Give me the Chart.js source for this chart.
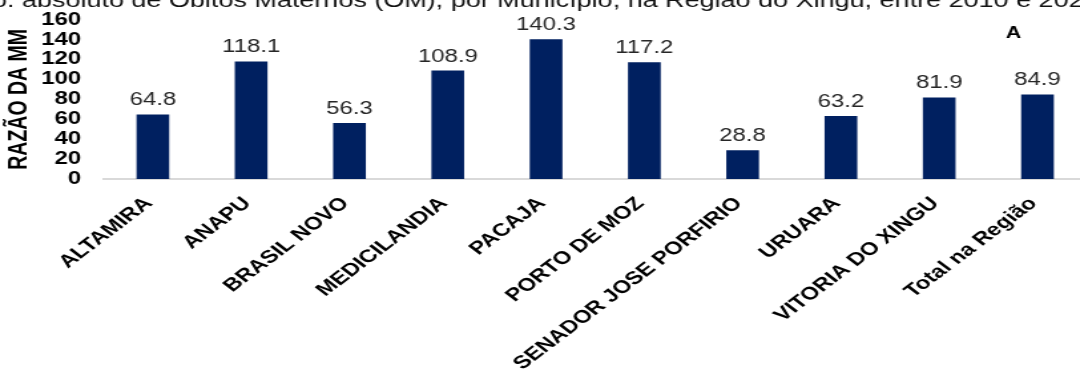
<!DOCTYPE html>
<html>
<head>
<meta charset="utf-8">
<script src="https://cdn.jsdelivr.net/npm/chart.js@4/dist/chart.umd.min.js"></script>
<style>
  html, body { margin: 0; padding: 0; background: #fff; overflow: hidden; }
  /* the source picture was stretched sideways, so the chart is too */
  #wrap { position: relative; width: 818px; height: 372px; transform: scaleX(1.33); transform-origin: 0 0; }
</style>
</head>
<body>
<div id="wrap"><canvas id="mmChart"></canvas></div>
<script>
// Razão de mortalidade materna por município
const categories = ['ALTAMIRA', 'ANAPU', 'BRASIL NOVO', 'MEDICILANDIA', 'PACAJA',
    'PORTO DE MOZ', 'SENADOR JOSE PORFIRIO', 'URUARA', 'VITORIA DO XINGU', 'Total na Região'];
const razaoMM = [64.8, 118.1, 56.3, 108.9, 140.3, 117.2, 28.8, 63.2, 81.9, 84.9];
const yTicks = [0, 20, 40, 60, 80, 100, 120, 140, 160];

const titleText = 'Nro. absoluto de Óbitos Maternos (ÓM), por Município, na Região do Xingu, entre 2010 e 2020';
const FONT = '"Liberation Sans", Arial, sans-serif';

// title (cut at the top), panel letter and value labels
const extras = {
    id: 'extras',
    afterDatasetsDraw(chart) {
        const ctx = chart.ctx;
        ctx.save();
        ctx.fillStyle = '#262626';
        ctx.font = '18px ' + FONT;
        ctx.textAlign = 'center';
        ctx.textBaseline = 'alphabetic';
        chart.getDatasetMeta(0).data.forEach((bar, i) => {
            ctx.fillText(razaoMM[i].toFixed(1), bar.x, bar.y - 9);
        });

        ctx.fillStyle = '#000';
        ctx.font = 'bold 16px ' + FONT;
        ctx.fillText('A', 762, 38);

        ctx.fillStyle = '#111';
        ctx.font = '20.3px ' + FONT;
        ctx.textAlign = 'left';
        const pre = ctx.measureText('Nro. ').width;
        ctx.fillText(titleText, 16.5 - pre, 7);
        ctx.restore();
    }
};

new Chart(document.getElementById('mmChart'), {
    type: 'bar',
    data: {
        labels: categories,
        datasets: [{
            data: razaoMM,
            backgroundColor: '#002060',
            barPercentage: 0.333,
            categoryPercentage: 1
        }]
    },
    options: {
        responsive: true,
        maintainAspectRatio: false,
        animation: false,
        layout: { padding: { top: 0, right: 1, left: 0, bottom: 0 } },
        plugins: { legend: { display: false }, tooltip: { enabled: false } },
        scales: {
            x: {
                grid: { display: false, drawTicks: false },
                border: { color: '#d9d9d9', width: 2 },
                ticks: {
                    color: '#000',
                    font: { family: FONT, size: 18, weight: 'bold' },
                    minRotation: 45,
                    maxRotation: 45,
                    autoSkip: false,
                    labelOffset: -3,
                    padding: 14
                },
                afterFit(scale) { scale.height = 193; }
            },
            y: {
                min: 0,
                max: 160,
                afterBuildTicks(scale) { scale.ticks = yTicks.map(v => ({ value: v })); },
                grid: { display: false, drawTicks: false },
                border: { display: false },
                ticks: {
                    color: '#000',
                    // small line height keeps the plot top near the 160 label
                    font: { family: FONT, size: 18, weight: 'bold', lineHeight: 0.3 },
                    autoSkip: false,
                    padding: 17
                },
                title: {
                    display: true,
                    text: 'RAZÃO DA MM',
                    color: '#000',
                    font: { family: FONT, size: 19.5, weight: 'bold' },
                    padding: { top: 3, bottom: 0 }
                },
                afterFit(scale) { scale.width = 78; }
            }
        }
    },
    plugins: [extras]
});
</script>
</body>
</html>
